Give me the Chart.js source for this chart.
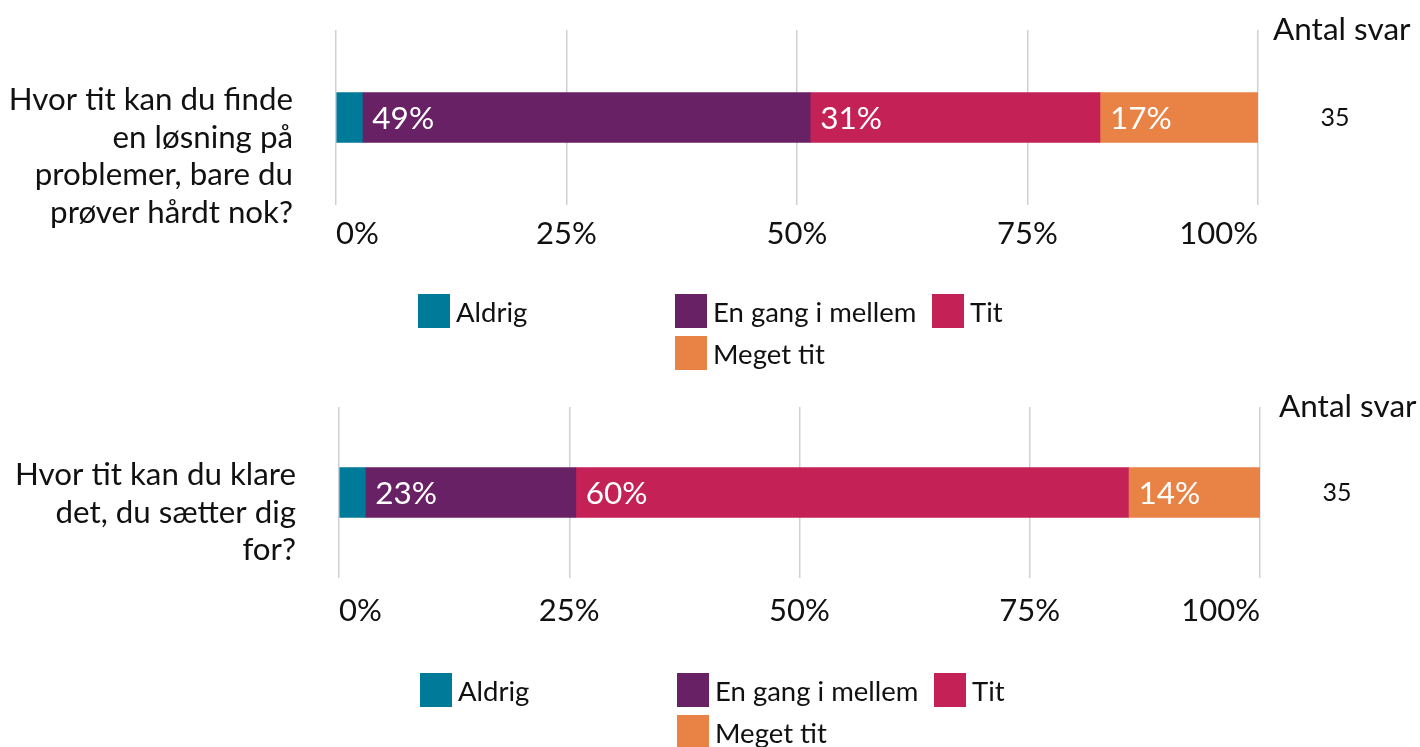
<!DOCTYPE html>
<html>
<head>
<meta charset="utf-8">
<script src="https://cdn.jsdelivr.net/npm/chart.js@4"></script>
<style>
  body { margin: 0; background: #fff; font-family: Lato, sans-serif; }
  #page { position: relative; width: 1420px; height: 747px; overflow: hidden; }
  canvas { position: absolute; left: 0; }
  .legend { position: absolute; left: 0; width: 1420px; height: 100px; }
  .item { position: absolute; display: flex; align-items: center; font-size: 27.5px; color: #111; white-space: nowrap; }
  .item span.box { display: inline-block; width: 32px; height: 34px; margin-right: 6px; }
</style>
</head>
<body>
<div id="page">
  <canvas id="chart1" width="1420" height="376" style="top:0"></canvas>
  <div class="legend" id="legend1" style="top:294px"></div>
  <canvas id="chart2" width="1420" height="371" style="top:376px"></canvas>
  <div class="legend" id="legend2" style="top:673px"></div>
</div>
<script>
const seriesNames = ["Aldrig", "En gang i mellem", "Tit", "Meget tit"];
const seriesColors = ["#007A99", "#692166", "#C42157", "#E98245"];

const question1 = ["Hvor tit kan du finde", "en løsning på", "problemer, bare du", "prøver hårdt nok?"];
const question2 = ["Hvor tit kan du klare", "det, du sætter dig", "for?"];

// answer counts per category (Aldrig, En gang i mellem, Tit, Meget tit)
const counts1 = [1, 17, 11, 6];
const counts2 = [1, 8, 21, 5];
const antalSvar = [35, 35];

const xTicks = [0, 25, 50, 75, 100];

const textColor = "#111";

// white % labels inside the bar segments
const barLabels = {
  id: "barLabels",
  afterDatasetsDraw(chart) {
    const c = chart.ctx;
    c.save();
    c.font = "31.5px Lato";
    c.fillStyle = "#fff";
    c.textAlign = "left";
    c.textBaseline = "middle";
    chart.data.datasets.forEach((ds, i) => {
      const meta = chart.getDatasetMeta(i);
      meta.data.forEach((bar, j) => {
        const v = ds.data[j];
        if (v < 5) return;
        c.fillText(Math.round(v) + "%", Math.min(bar.x, bar.base) + 10, bar.y + 1);
      });
    });
    c.restore();
  },
};

// "Antal svar" header and count on the right
const countColumn = {
  id: "countColumn",
  afterDraw(chart, args, opts) {
    const c = chart.ctx;
    const area = chart.chartArea;
    const y = chart.scales.y;
    c.save();
    c.fillStyle = textColor;
    c.font = "31.5px Lato";
    c.textAlign = "left";
    c.textBaseline = "middle";
    c.fillText("Antal svar", area.right + opts.headerGap, area.top);
    c.font = "25px Lato";
    c.textAlign = "center";
    opts.counts.forEach((n, i) => {
      c.fillText(String(n), area.right + 77, y.getPixelForValue(i));
    });
    c.restore();
  },
};

function makeChart(id, question, counts, total, lay) {
  const datasets = seriesNames.map((name, i) => ({
    label: name,
    data: [(counts[i] / total) * 100],
    backgroundColor: seriesColors[i],
    barThickness: 50,
  }));

  return new Chart(document.getElementById(id), {
    type: "bar",
    data: { labels: [question], datasets },
    plugins: [barLabels, countColumn],
    options: {
      indexAxis: "y",
      responsive: false,
      animation: false,
      layout: { padding: { top: lay.top, right: lay.right, left: 0, bottom: 0 } },
      plugins: {
        legend: { display: false },
        tooltip: { enabled: false },
        countColumn: { counts: [total], headerGap: lay.headerGap },
      },
      scales: {
        x: {
          stacked: true,
          min: 0,
          max: 100,
          afterBuildTicks: (s) => { s.ticks = xTicks.map((v) => ({ value: v })); },
          afterFit: (s) => { s.height = lay.xHeight; s.paddingLeft = 0; s.paddingRight = 0; },
          border: { display: false },
          grid: { color: "#CDD1D5", lineWidth: 1.5, drawTicks: false },
          ticks: {
            align: "inner",
            padding: lay.tickPad,
            color: textColor,
            font: { family: "Lato", size: 31 },
            callback: (v) => v + "%",
          },
        },
        y: {
          stacked: true,
          afterFit: (s) => { s.width = lay.left; s.paddingTop = 0; s.paddingBottom = 0; },
          border: { display: false },
          grid: { display: false, drawTicks: false },
          ticks: {
            padding: 43,
            labelOffset: lay.labelOffset,
            color: textColor,
            font: { family: "Lato", size: 31.3, lineHeight: 1.2 },
          },
        },
      },
    },
  });
}

function makeLegend(id, shift) {
  const slots = [[0, 0], [1, 0], [2, 0], [1, 1]];
  const el = document.getElementById(id);
  seriesNames.forEach((name, i) => {
    const it = document.createElement("div");
    it.className = "item";
    it.style.left = 418 + shift + slots[i][0] * 257 + "px";
    it.style.top = slots[i][1] * 42 + "px";
    const box = document.createElement("span");
    box.className = "box";
    box.style.background = seriesColors[i];
    it.appendChild(box);
    it.appendChild(document.createTextNode(name));
    el.appendChild(it);
  });
}

makeChart("chart1", question1, counts1, antalSvar[0], {
  top: 30, right: 162, left: 336, xHeight: 171, tickPad: 10, labelOffset: 39, headerGap: 15,
});
makeChart("chart2", question2, counts2, antalSvar[1], {
  top: 31, right: 160, left: 339, xHeight: 169, tickPad: 14, labelOffset: 20, headerGap: 19,
});
makeLegend("legend1", 0);
makeLegend("legend2", 2);
</script>
</body>
</html>
